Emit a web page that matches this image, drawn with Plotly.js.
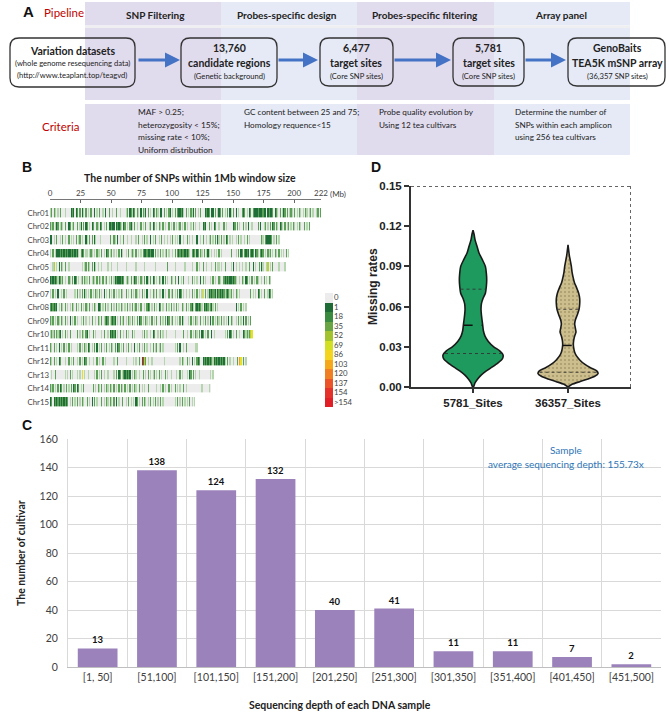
<!DOCTYPE html>
<html><head><meta charset="utf-8">
<script src="https://cdn.plot.ly/plotly-3.0.1.min.js"></script>
<style>html,body{margin:0;padding:0;background:#fff}#chart{width:669px;height:712px}</style>
</head><body><div id="chart"></div>
<script>
// ---------------- DATA ----------------
// Panel B: per-1Mb window level codes ('.'=0 SNPs, l/m/d = light/mid/dark green, y/Y/o/r = higher classes)
const chrNames = ["Chr01","Chr02","Chr03","Chr04","Chr05","Chr06","Chr07","Chr08","Chr09","Chr10","Chr11","Chr12","Chr13","Chr14","Chr15"];
const chr01 = "lm.ml.l.m. ..l....dmd .dm.m.dl.m .l.m..d.l. m..l.d..m. .l..m..l.. ..lm.dmldm .ml.d.mld. m.l.dm.ml. dd.m.l.md. l.m.mddmdl .m.l.mld.m .l.m...dmd m.dd.m.ldm .m.l.m.dl. m.d.l..mdm .l.dm.mddd mdddmdd.dm ddm.dml.m. ldm.m.lml. m.l.ml.l.m l.lm.l..lm .m";
const chr02 = "mlm.ldm.lm l.m..dm.lm ..m.ld.m.d m.l.dm..ml .dm.l.m.dd mdd.dmdml. dm.l.mdl.m .l..m.l.m. .lm.dm.l.m l.m.l..m.l .m.l.lm.l. m.l..l.m.l ..l..dmd.. m.l.dm..l. ..m.l..... dm.m.l..m. l.d..l.... m.d..lm.l. m.dm.ml.dm l.m.lm.l.m l.l.ml..m. l.m";
const chr03 = "dd.l.m..l. m.l..m.l.l .m.lm.l..d l.m.m.dl.. .l.......m ..ml.d.l.. m..l..l... l.m..l.m.l ..d.l.m..l .m.l..l.l. m.l.l.d..l ..m.l.l... d..l.m..l. lm.l.m.dl. m.l.dm.l.l ..l.m.l..l .m.l...... ...ml.mddd dm.l.m.l";
const chr04 = "l.m.ldddmd mdmdmddmdm dmdl.mdm.l l.lml.l.ml l.m.l.dm.l m.l.l.m.dl ..l.m.lml. m.l.l.mddm ddmdd.m.l. m.l.lm.l.. l.m.mdmdmm dmdml.mdml dm.ml.m.ld l.l.l.l.m. l.......m. ..l.m.dm.m dmd.mdm.dm l.mdm.l.ml m.l.ml.m.l .l.m.l";
const chr05 = "..ly.l.d.m l.m..l.... ......l.lm .ml.m.dl.l ..l....l.. l....l.... ..l....... l......l.. ......l... ......m... ..l....... l.....l... m.l..m..l. ..l..m.ll. l..m....l. d.l..l.l.. l..m..d.l. .m.dl..ly. l.m....l.. ..l";
const chr06 = "dmdmdmldml m.l..ml.m. dm.l.lm.ml l.m.lml.m. ml.m.lm.l. m.ldmdddmd m.lml.m.ld m.l.ml.m.d l.m.dm.l.m l.d.m.l..m l.m..d.l.m ...l..m.l. l..d.m.l.. .l.m.l..ml ..mdmdmddm dml..l.ml. dm.l.m.l.m l..l.m.l.m l";
const chr07 = "l.m.l.d..l .m.l...... l.m.l.m.dl .l.m.l.ml. m.l.d.l.m. l.m.l.l.ml ..m.l.m.l. ml.l.m.l.d ..l.ml.m.l l.d.l..m.l m.l.m.dm.l .l..l.m.l. m.l.lY.m.l dmdmmdldmd mdmlmdmlm. l.ml.l.... ....m.l.l. dm.l.m..ld m.l";
const chr08 = "mdmdmd.l.m l.m.l.l.ml .m.l.m.l.m l.m.l.ml.d dm.l.m.l.. m.l.m.l.ml .l.m.l.m.l m.l.m..l.m dm.l.m.l.d m.l..m.l.m .l.m.l..ml .m.l.mdl.m dmdml.dmdm lmdl.m.l.. .......... ..d.l.m.l. l";
const chr09 = "mlm.l.ml.m l.m.l.d.l. m.l..l.m.l ..l.m..l.m l.m.lmdm.l mdmd.l.m.l m.l.ml.m.l .m.dm.l.ml .l.m.l.m.. m.l.m.dm.l m.l.l.m.dl ...l.m.l.m l..m.l.m.l .d.m.l.ml. m.l.l.d.ml ..l.m.l.d. m.l.m";
const chr10 = "lmlm.mlmd. l.m.l.m... ..m.l.ml.m d.l..m.l.. ..l.m..l.d mdmd.l.m.. l.m.l..m.l .....l.m.l ..l.dm..l. m.l..l.... ..l......m ..l..m.l.m l.m.dm.l.m ..d.l..... ...l.m.dm. l.m..l..dm lmlmyY";
const chr11 = "ml.m.l.d.l .m.l.m.l.. ..l.m.l.ml .dm.l.m.d. l.m.l.m.l. ml.m.dm.l. m.l.m.l..d .l.m.l.m.l ..l.m.lm.l m.l....... ..l.m.d..l .m.......l l";
const chr12 = "ml.m.l.dm. ..l..m.l.m ..l.m.l.dm ..l..l..m. l..m.l.... ..l..m.... ..l.....l. l..m.drym. l..l...... ...l...... ......l.ml ..m.l.d.l. mdm..dmdmd mdmldmdmdm dmdl.m.l.. l..m.oY.m. l";
const chr13 = ".l..m..... ..l.l.m.l. ..l.l.Y.l. .l....l.m. l.m.l..l.. ..l.m.dm.l mdmdmd.l.m l..l..m.l. m.l.lm.l.m .l..m.l..l ...l..m.l. ..l.dm.m.l ..l....... .l.l";
const chr14 = "mlm.l.m.dm .l.m.l.m.d m.dm.l.m.. .....m.l.m l.m.l.ml.m l.m.l.m.ml .m.l.m.l.m l..m.l.l.. m......l.. l.m.l..m.l ..m.l.l..m .l........ ....l..... l.";
const chr15 = "dm.dmdmdmd mdmdm.l.m. l.m.l.ml.. m.l.d.m.l. ..m.l.ml.m l.m.d.l..m ..l.m.l.l. dm.l.m.ml. l.m.l.m.l. m.l....... ..l.m.l.m. l.l.m.l.l";
const chrStrings = [chr01,chr02,chr03,chr04,chr05,chr06,chr07,chr08,chr09,chr10,chr11,chr12,chr13,chr14,chr15];
const genomeTicks = [0,25,50,75,100,125,150,175,200,222];
const legendLabels = ["0","1","18","35","52","69","86","103","120","137","154",">154"];
const legendColors = ["#ececec","#1e6b36","#3a8a3f","#6aa544","#a2c22e","#d3df22","#f4d41c","#f6a81b","#f07e22","#ea5428","#e4322a","#e01f26"];

// Panel D: violin outlines (missing rate, half width)
const v1Y = [0.000,0.003,0.006,0.009,0.012,0.015,0.018,0.021,0.024,0.027,0.030,0.034,0.038,0.042,0.046,0.050,0.054,0.058,0.062,0.066,0.070,0.075,0.080,0.085,0.090,0.095,0.100,0.105,0.110,0.114,0.117];
const v1W = [0.004,0.021,0.049,0.088,0.140,0.204,0.263,0.309,0.316,0.281,0.218,0.161,0.126,0.109,0.102,0.095,0.088,0.084,0.088,0.105,0.130,0.140,0.144,0.140,0.130,0.098,0.063,0.042,0.021,0.011,0.0];
const v2Y = [0.000,0.002,0.004,0.006,0.008,0.010,0.012,0.014,0.017,0.020,0.023,0.026,0.029,0.032,0.035,0.038,0.041,0.044,0.047,0.050,0.054,0.058,0.062,0.066,0.070,0.074,0.078,0.082,0.086,0.090,0.094,0.098,0.102,0.106];
const v2W = [0.0,0.042,0.123,0.211,0.281,0.316,0.302,0.246,0.175,0.126,0.091,0.070,0.060,0.056,0.060,0.070,0.084,0.077,0.070,0.077,0.098,0.116,0.123,0.123,0.112,0.091,0.067,0.053,0.042,0.035,0.025,0.014,0.007,0.0];
const violinNames = ["5781_Sites","36357_Sites"];
const v1Quart = [0.025,0.046,0.073];
const v2Quart = [0.011,0.031,0.058];

// Panel C: sequencing depth distribution
const depthBins = ["[1, 50]","[51,100]","[101,150]","[151,200]","[201,250]","[251,300]","[301,350]","[351,400]","[401,450]","[451,500]"];
const cultivarCounts = [13,138,124,132,40,41,11,11,7,2];

// ---------------- HELPERS ----------------
const W = 669, H = 712;
const X = v => v / W, Y = v => 1 - v / H;
const codeMap = {'.':0,'l':1,'m':2,'d':3,'y':4,'Y':5,'o':6,'r':7};
const heatColors = ["#ececec","#b4d5ad","#5c9f58","#1f6e37","#b7cf3a","#e6e02a","#f3a51f","#e3292b"];
function stepScale(cols){
  const n = cols.length, s = [];
  cols.forEach((c,i)=>{ s.push([i/n,c]); s.push([(i+1)/n,c]); });
  return s;
}
function interp(ys, ws, q){
  for (let i=0;i<ys.length-1;i++){
    if (q>=ys[i] && q<=ys[i+1]){ const t=(q-ys[i])/(ys[i+1]-ys[i]); return ws[i]+t*(ws[i+1]-ws[i]); }
  }
  return 0;
}
function rr(x0,y0,x1,y1,r){
  return `M${X(x0+r)},${Y(y0)} L${X(x1-r)},${Y(y0)} Q${X(x1)},${Y(y0)} ${X(x1)},${Y(y0+r)} L${X(x1)},${Y(y1-r)} Q${X(x1)},${Y(y1)} ${X(x1-r)},${Y(y1)} L${X(x0+r)},${Y(y1)} Q${X(x0)},${Y(y1)} ${X(x0)},${Y(y1-r)} L${X(x0)},${Y(y0+r)} Q${X(x0)},${Y(y0)} ${X(x0+r)},${Y(y0)} Z`;
}
const ann = [];
function txt(x,y,text,size,o){
  o = o||{};
  ann.push(Object.assign({xref:'paper',yref:'paper',x:X(x),y:Y(y),text:text,showarrow:false,
    xanchor:o.xa||'center',yanchor:'middle',
    font:{family:o.fam||'Lato, sans-serif',size:size,color:o.color||'#222'}}, o.extra||{}));
}

// ---------------- PANEL B heatmap ----------------
const maxLen = 222;
const xs = Array.from({length:maxLen},(_,i)=>i+0.5);
const zRows = chrStrings.map(s=>{
  const c = s.replace(/ /g,'');
  const row = new Array(maxLen).fill(null);
  for (let i=0;i<c.length && i<maxLen;i++) row[i]=codeMap[c[i]];
  return row;
});
const traces = [];
traces.push({type:'heatmap',x:xs,y:chrNames,z:zRows,xaxis:'x',yaxis:'y',zmin:-0.5,zmax:7.5,
  colorscale:stepScale(heatColors),showscale:false,ygap:4.6,xgap:0,hoverinfo:'skip',zsmooth:false});
traces.push({type:'heatmap',x:['k'],y:legendLabels,z:legendLabels.map((_,i)=>[i]),xaxis:'x2',yaxis:'y2',
  zmin:-0.5,zmax:11.5,colorscale:stepScale(legendColors),showscale:false,hoverinfo:'skip',xgap:0,ygap:0});

// ---------------- PANEL D violins ----------------
function violin(c, ys, ws, fill, pattern){
  const xsV = [], ysV = [];
  for (let i=0;i<ys.length;i++){ xsV.push(c+ws[i]); ysV.push(ys[i]); }
  for (let i=ys.length-1;i>=0;i--){ xsV.push(c-ws[i]); ysV.push(ys[i]); }
  xsV.push(xsV[0]); ysV.push(ysV[0]);
  const t = {type:'scatter',mode:'lines',x:xsV,y:ysV,xaxis:'x3',yaxis:'y3',fill:'toself',fillcolor:fill,
    line:{color:'#1a1a1a',width:1.6,shape:'spline',smoothing:0.6},hoverinfo:'skip'};
  if (pattern) t.fillpattern = pattern;
  return t;
}
traces.push(violin(0,v1Y,v1W,'#1f9a5e',null));
traces.push(violin(1,v2Y,v2W,'#cbbd8b',{shape:'.',bgcolor:'#cdbf8d',fgcolor:'#a8986a',size:4,solidity:0.2}));
function qlines(c, ys, ws, qs){
  qs.forEach((q,k)=>{
    const w = interp(ys,ws,q)*0.97;
    traces.push({type:'scatter',mode:'lines',x:[c-w,c+w],y:[q,q],xaxis:'x3',yaxis:'y3',hoverinfo:'skip',
      line:{color:k===1?'#111':'#333',width:k===1?1.5:0.9,dash:k===1?'dash':'dot'}});
  });
}
qlines(0,v1Y,v1W,v1Quart);
qlines(1,v2Y,v2W,v2Quart);

// ---------------- PANEL C bars ----------------
traces.push({type:'bar',x:depthBins,y:cultivarCounts,xaxis:'x4',yaxis:'y4',marker:{color:'#9b82bb'},width:0.67,
  text:cultivarCounts.map(v=>'<b>'+v+'</b>'),textposition:'outside',cliponaxis:false,
  textfont:{family:'Lato, sans-serif',size:9.5,color:'#111'},hoverinfo:'skip'});

// ---------------- PANEL A (diagram) ----------------
const shapes = [];
function rect(x0,y0,x1,y1,col){ shapes.push({type:'rect',xref:'paper',yref:'paper',x0:X(x0),x1:X(x1),y0:Y(y1),y1:Y(y0),fillcolor:col,line:{width:0},layer:'below'}); }
const lav = '#e1dbee', blu = '#e5eaf6';
const cols = [[85,221,lav],[221,357,blu],[357,494,lav],[494,630,blu]];
cols.forEach(c=>{ rect(c[0],2,c[1],25.5,c[2]); rect(c[0],28,c[1],100,c[2]); rect(c[0],104,c[1],155,c[2]); });
rect(85,25.5,630,28,'#efeff2');
const boxes = [[10,38,135,87],[181,38,277,87],[320,38,393,86],[453,38,524,86],[568,38,665,86]];
boxes.forEach(b=>shapes.push({type:'path',xref:'paper',yref:'paper',path:rr(b[0],b[1],b[2],b[3],9),line:{color:'#333',width:1.3},fillcolor:'rgba(0,0,0,0)'}));
[[137,180],[277,318],[393,451],[524,566]].forEach(a=>{
  ann.push({xref:'paper',yref:'paper',x:X(a[1]),y:Y(60),ax:-(a[1]-a[0]),ay:0,text:'',showarrow:true,
    arrowhead:2,arrowsize:1,arrowwidth:3,arrowcolor:'#4472c4',standoff:0,startstandoff:0});
});
txt(28,11,'<b>A</b>',15,{fam:'Liberation Sans, Arial',color:'#111'});
txt(64,12,'Pipeline',11.5,{color:'#c00000'});
txt(60,127,'Criteria',11.5,{color:'#c00000'});
txt(155,15,'<b>SNP Filtering</b>',10);
txt(287,15,'<b>Probes-specific design</b>',10);
txt(425,15,'<b>Probes-specific filtering</b>',10);
txt(561,15,'<b>Array panel</b>',10);
txt(72,51,'<b>Variation datasets</b>',10.5);
txt(72,63,'(whole genome resequencing data)',7.6);
txt(72,75,'(http://www.teaplant.top/teagvd)',7.6);
txt(229,48,'<b>13,760</b>',10.5);
txt(229,63,'<b>candidate regions</b>',10.5);
txt(229,76,'(Genetic background)',7.6);
txt(356,48,'<b>6,477</b>',10.5);
txt(356,63,'<b>target sites</b>',10.5);
txt(356,76,'(Core SNP sites)',7.6);
txt(488.5,48,'<b>5,781</b>',10.5);
txt(488.5,63,'<b>target sites</b>',10.5);
txt(488.5,76,'(Core SNP sites)',7.6);
txt(617,48,'<b>GenoBaits</b>',10.5);
txt(617,63,'<b>TEA5K mSNP array</b>',10.5);
txt(617,76,'(36,357 SNP sites)',7.6);
[['MAF > 0.25;',112],['heterozygosity < 15%;',124.5],['missing rate < 10%;',137],['Uniform distribution',149.5]].forEach(l=>txt(136,l[1],l[0],8.4,{xa:'left'}));
[['GC content between 25 and 75;',112],['Homology requence<15',124.5]].forEach(l=>txt(242,l[1],l[0],8.2,{xa:'left'}));
[['Probe quality evolution by',112],['Using 12 tea cultivars',124.5]].forEach(l=>txt(377,l[1],l[0],8.2,{xa:'left'}));
[['Determine the number of',112],['SNPs within each amplicon',124.5],['using 256 tea cultivars',137]].forEach(l=>txt(513,l[1],l[0],8.2,{xa:'left'}));

// Panel labels and titles
txt(27,167,'<b>B</b>',14,{fam:'Liberation Sans, Arial',color:'#111'});
txt(376,167,'<b>D</b>',14,{fam:'Liberation Sans, Arial',color:'#111'});
txt(27,425,'<b>C</b>',14,{fam:'Liberation Sans, Arial',color:'#111'});
txt(190,178,'<b>The number of SNPs within 1Mb window size</b>',10.5);
txt(327.5,194,'(Mb)',8,{color:'#444',xa:'left'});
txt(373,287,'<b>Missing rates</b>',12,{fam:'Liberation Sans, Arial',color:'#222',extra:{textangle:-90}});
txt(566,450,'Sample',10,{color:'#2e75b6'});
txt(566,464,'average sequencing depth: 155.73x',10,{color:'#2e75b6'});
txt(340,705,'<b>Sequencing depth of each DNA sample</b>',10.5,{color:'#222'});
txt(21,553,'<b>The number of cultivar</b>',10.5,{color:'#222',extra:{textangle:-90}});

// D border (dotted top and right)
const dL=-0.653, dR=1.663;
shapes.push({type:'line',xref:'x3',yref:'y3',x0:dL,x1:dR,y0:0.15,y1:0.15,line:{color:'#333',width:1.5,dash:'dot'}});
shapes.push({type:'line',xref:'x3',yref:'y3',x0:dR,x1:dR,y0:0,y1:0.15,line:{color:'#333',width:1.5,dash:'dot'}});

const dTicks=[0,0.03,0.06,0.09,0.12,0.15];
const layout = {
  width:W,height:H,margin:{l:0,r:0,t:0,b:0},paper_bgcolor:'#fff',plot_bgcolor:'rgba(0,0,0,0)',showlegend:false,
  font:{family:'Lato, sans-serif',color:'#333'},
  xaxis:{domain:[X(50),X(321)],range:[0,222],anchor:'free',position:Y(199),side:'top',ticks:'inside',ticklen:3,tickcolor:'#666',
    tickvals:genomeTicks,ticktext:genomeTicks.map(String),showline:true,linecolor:'#777',linewidth:1,showgrid:false,zeroline:false,
    tickfont:{size:8,color:'#444'},fixedrange:true},
  yaxis:{domain:[Y(409),Y(206)],anchor:'x',type:'category',autorange:'reversed',ticks:'',showgrid:false,zeroline:false,showline:false,
    tickfont:{size:7.8,color:'#444'},fixedrange:true},
  xaxis2:{domain:[X(325),X(333)],anchor:'y2',showticklabels:false,ticks:'',showgrid:false,zeroline:false,showline:false},
  yaxis2:{domain:[Y(407),Y(293)],anchor:'x2',side:'right',type:'category',autorange:'reversed',ticks:'',showgrid:false,zeroline:false,showline:false,
    tickfont:{size:7.8,color:'#444'}},
  xaxis3:{domain:[X(411),X(631)],anchor:'y3',range:[dL,dR],tickvals:[0,1],ticktext:violinNames.map(s=>'<b>'+s+'</b>'),
    showline:true,linecolor:'#333',linewidth:2,ticks:'outside',ticklen:4,tickwidth:2,tickcolor:'#333',showgrid:false,zeroline:false,
    tickfont:{family:'Liberation Sans, Arial',size:11.5,color:'#222'}},
  yaxis3:{domain:[Y(387),Y(186)],anchor:'x3',range:[0,0.15],tickvals:dTicks,ticktext:dTicks.map(v=>'<b>'+v.toFixed(2)+'</b>'),
    showline:true,linecolor:'#333',linewidth:2,ticks:'outside',ticklen:5,tickwidth:2,tickcolor:'#333',showgrid:false,zeroline:false,
    tickfont:{family:'Liberation Sans, Arial',size:11.5,color:'#222'}},
  xaxis4:{domain:[X(68),X(661)],anchor:'y4',type:'category',tickson:'boundaries',showgrid:true,gridcolor:'#d9d9d9',gridwidth:1,
    ticks:'outside',ticklen:8,tickcolor:'rgba(0,0,0,0)',showline:true,linecolor:'#bfbfbf',zeroline:false,
    tickfont:{size:10.5,color:'#404040'}},
  yaxis4:{domain:[Y(667),Y(439)],anchor:'x4',range:[0,160],dtick:20,showgrid:true,gridcolor:'#d9d9d9',gridwidth:1,
    ticks:'outside',ticklen:7,tickcolor:'rgba(0,0,0,0)',showline:true,linecolor:'#d9d9d9',zeroline:false,
    tickfont:{size:10.5,color:'#404040'}},
  bargap:0.33,
  shapes:shapes,annotations:ann
};
Plotly.newPlot('chart',traces,layout,{staticPlot:true,displayModeBar:false});
</script></body></html>
